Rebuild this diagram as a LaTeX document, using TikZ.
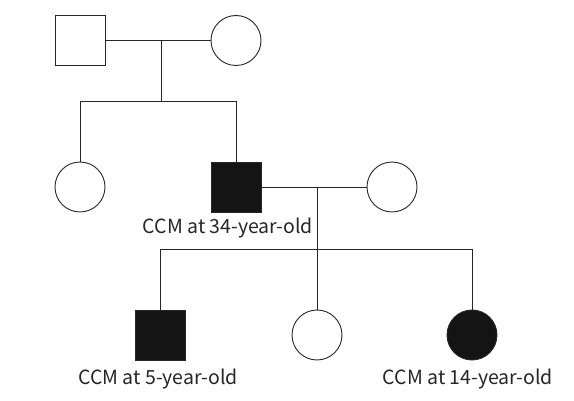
\documentclass[tikz,border=0pt]{standalone}
\usepackage{fontspec}
\newfontfamily\lblfont{Noto Sans CJK JP}
\usepackage{tikz}
\usetikzlibrary{positioning,calc}
\tikzset{
  wire/.style     = {line width=0.9pt, draw=black!85},
  male/.style     = {draw=black!85, line width=0.9pt, fill=white, minimum size=50pt,
                     inner sep=0pt},
  female/.style   = {male, circle},
  aff/.style      = {fill=black!92},
  lbl/.style      = {font=\lblfont\fontsize{19.5}{22}\selectfont, text=black!85,
                     inner sep=0pt},
}
\begin{document}
\begin{tikzpicture}[x=1pt,y=-1pt]
  \useasboundingbox (0,0) rectangle (574,401);
  % generation I
  \node[male]   (gf) at (80,40.5) {};
  \node[female] (gm) at (236,40.5) {};
  \coordinate (m1) at (161,40.5);
  \coordinate (s1) at (161,101);
  % generation II
  \node[female]     (d1) at (80,187) {};
  \node[male,aff]   (p1) at (236,187) {};
  \node[female]     (w1) at (392,187) {};
  \coordinate (m2) at (317,187);
  \coordinate (s2) at (317,249);
  \node[lbl] (t1) at (228,228) {CCM at 34-year-old};
  % generation III
  \node[male,aff]   (c1) at (160,335) {};
  \node[female]     (c2) at (317,335) {};
  \node[female,aff] (c3) at (472,335) {};
  \node[lbl] (t2) at (158,379) {CCM at 5-year-old};
  \node[lbl] (t3) at (468,379) {CCM at 14-year-old};
  % lines
  \draw[wire] (gf) -- (gm);
  \draw[wire] (m1) -- (s1);
  \draw[wire] (d1.north) -- (d1.north |- s1) -- (p1.north |- s1) -- (p1.north);
  \draw[wire] (p1) -- (w1);
  \draw[wire] (m2) -- (s2);
  \draw[wire] (c1.north) -- (c1.north |- s2) -- (c3.north |- s2) -- (c3.north);
  \draw[wire] (s2) -- (c2.north);
\end{tikzpicture}
\end{document}
